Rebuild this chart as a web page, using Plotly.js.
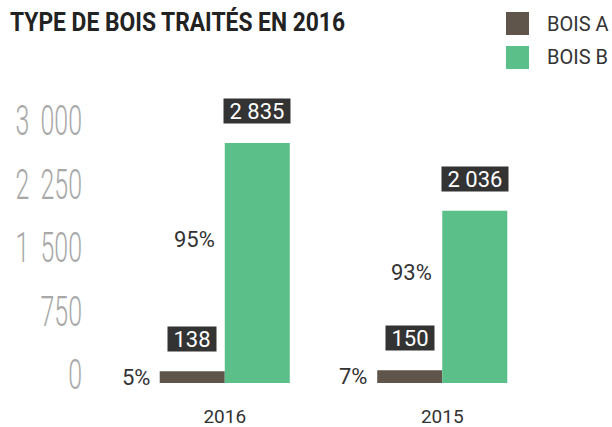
<!DOCTYPE html>
<html>
<head>
<meta charset="utf-8">
<script src="https://cdn.plot.ly/plotly-3.0.1.min.js"></script>
<style>html,body{margin:0;padding:0;background:#fff;}#chart{width:612px;height:427px;}</style>
</head>
<body>
<div id="chart"></div>
<script>
// ---- data ----
const years = ['2016', '2015'];
const boisA = [138, 150];
const boisB = [2835, 2036];
const seriesNames = ['BOIS A', 'BOIS B'];
const tickValues = [0, 750, 1500, 2250, 3000];
const tickLabels = ['0', '750', '1\u00a0\u2009500', '2\u00a0\u2009250', '3\u00a0\u2009000'];

const colA = '#5f554b';
const colB = '#5abf88';
const bargap = 0.402;
const barW = (1 - bargap) / 2;
const fmt = v => String(v).replace(/\B(?=(\d{3})+(?!\d))/g, ' ');
const nb = '\u00a0';

const traces = [
  {type: 'bar', name: seriesNames[0], x: years, y: boisA, marker: {color: colA}, hoverinfo: 'none', showlegend: false},
  {type: 'bar', name: seriesNames[1], x: years, y: boisB, marker: {color: colB}, hoverinfo: 'none', showlegend: false},
  {type: 'scatter', x: years, y: [null, null], yaxis: 'y2', showlegend: false, hoverinfo: 'none'}
];

const annotations = [];
years.forEach((yr, i) => {
  const tot = boisA[i] + boisB[i];
  const pA = Math.round(boisA[i] / tot * 100);
  const pB = Math.round(boisB[i] / tot * 100);
  [[boisA[i], -barW / 2], [boisB[i], barW / 2]].forEach(([v, off]) => {
    annotations.push({
      x: i + off, y: v, xref: 'x', yref: 'y', yanchor: 'bottom', yshift: 19,
      text: nb + fmt(v) + nb, showarrow: false, bgcolor: '#333333', borderpad: 0, height: 24,
      font: {family: 'Roboto, Noto Sans, sans-serif', size: 22, color: '#ffffff'}
    });
  });
  annotations.push({
    x: i - barW, y: boisA[i] / 2, xref: 'x', yref: 'y', xanchor: 'right', yanchor: 'middle', xshift: -8,
    text: pA + '%', showarrow: false, font: {family: 'Roboto, Noto Sans, sans-serif', size: 22, color: '#333333'}
  });
  annotations.push({
    x: i, y: boisB[i] / 2, xref: 'x', yref: 'y', xanchor: 'right', yanchor: 'middle', xshift: -8, yshift: 24,
    text: pB + '%', showarrow: false, font: {family: 'Roboto, Noto Sans, sans-serif', size: 22, color: '#333333'}
  });
});

// legend (custom, large swatches)
const legY = [1.2703, 1.1502];
const legCols = [colA, colB];
const shapes = [];
seriesNames.forEach((n, k) => {
  shapes.push({type: 'rect', xref: 'paper', yref: 'paper', x0: 0.8966, x1: 0.9494, y0: legY[k] - 0.0406, y1: legY[k] + 0.0406, fillcolor: legCols[k], line: {width: 0}});
  annotations.push({x: 0.9862, y: legY[k], xref: 'paper', yref: 'paper', xanchor: 'left', yanchor: 'middle', text: n, showarrow: false,
    font: {family: 'Roboto, Noto Sans, sans-serif', size: 20, color: '#333333'}});
});

const layout = {
  width: 612, height: 427,
  margin: {l: 116, r: 61, t: 100, b: 44},
  paper_bgcolor: '#ffffff', plot_bgcolor: '#ffffff',
  barmode: 'group', bargap: bargap, bargroupgap: 0,
  showlegend: false,
  title: {text: 'TYPE DE BOIS TRAITÉS EN 2016', x: 0.0163, xanchor: 'left', xref: 'container', y: 0.948, yanchor: 'middle', yref: 'container',
    font: {family: 'Roboto, sans-serif', size: 25, weight: 700, color: '#222222'}},
  xaxis: {type: 'category', range: [-0.5, 1.5], showgrid: false, zeroline: false, showline: false, ticks: '',
    ticklabelstandoff: 20, tickfont: {family: 'Roboto, Noto Sans, sans-serif', size: 19, color: '#333333'}},
  yaxis: {range: [0, 3343], showgrid: false, zeroline: false, showline: false, showticklabels: false, ticks: ''},
  yaxis2: {overlaying: 'y', side: 'left', range: [-106, 3237], showgrid: false, zeroline: false, showline: false, ticks: '',
    tickmode: 'array', tickvals: tickValues, ticktext: tickLabels, ticklabelstandoff: 33,
    tickfont: {family: 'Roboto, sans-serif', size: 43, weight: 300, color: '#a8a8a8'}},
  annotations: annotations,
  shapes: shapes
};

function squeeze(sel, sx) {
  document.querySelectorAll(sel).forEach(t => {
    const x = parseFloat(t.getAttribute('x')) || 0;
    const tr = t.getAttribute('transform') || '';
    t.setAttribute('transform', tr + ' translate(' + x + ',0) scale(' + sx + ',1) translate(' + (-x) + ',0)');
  });
}

Plotly.newPlot('chart', traces, layout, {staticPlot: true, displayModeBar: false}).then(() => {
  squeeze('#chart .y2tick text', 0.58);
  squeeze('#chart .gtitle', 0.913);
});
</script>
</body>
</html>
